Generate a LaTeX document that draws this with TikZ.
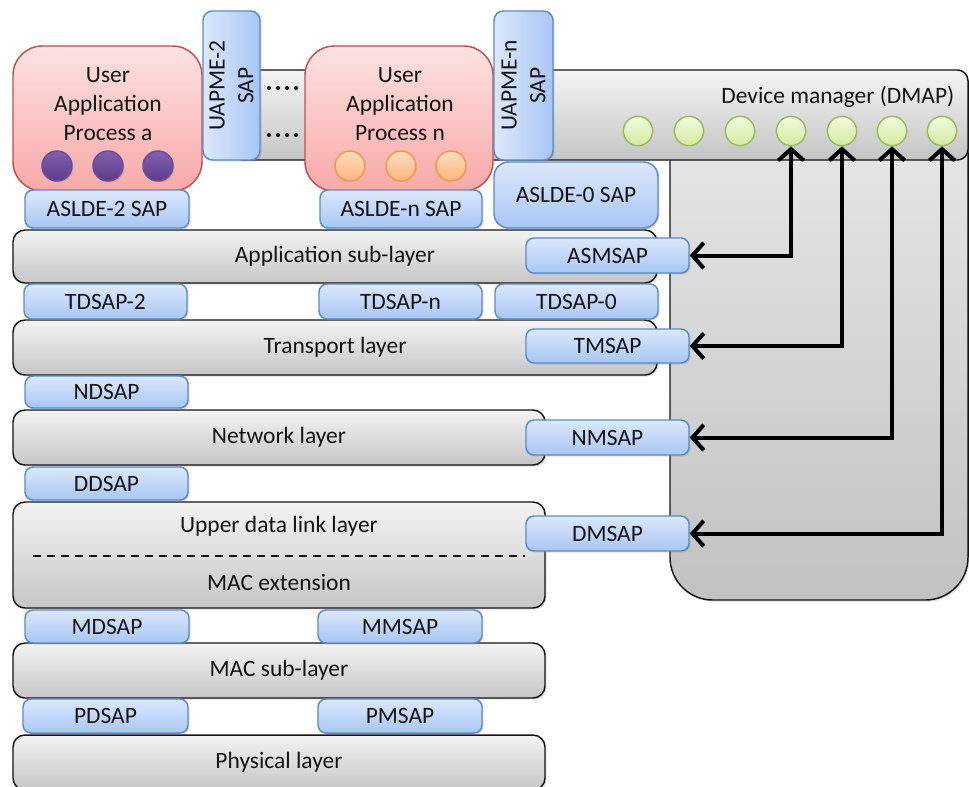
\documentclass[tikz,border=0pt]{standalone}
\usepackage{fontspec}
\setmainfont{Carlito}
\usetikzlibrary{fit,arrows.meta,shadows}

\definecolor{sapTop}{HTML}{DCE8FC}
\definecolor{sapBot}{HTML}{A8C6F4}
\definecolor{sapLine}{HTML}{5A8BCB}
\definecolor{uapTop}{HTML}{FDE2E2}
\definecolor{uapBot}{HTML}{F8A9A8}
\definecolor{uapLine}{HTML}{C0504D}
\definecolor{layTop}{HTML}{F3F3F3}
\definecolor{layBot}{HTML}{C6C6C6}
\definecolor{purTop}{HTML}{8262AE}
\definecolor{purBot}{HTML}{5C3C88}
\definecolor{purLine}{HTML}{6B4B97}
\definecolor{oraTop}{HTML}{FEDDBF}
\definecolor{oraBot}{HTML}{FBB67C}
\definecolor{oraLine}{HTML}{F79646}
\definecolor{grnTop}{HTML}{F3FADF}
\definecolor{grnBot}{HTML}{D2EA9E}
\definecolor{grnLine}{HTML}{9BBB59}
\definecolor{txt}{HTML}{141414}

\begin{document}
\begin{tikzpicture}[x=0.75pt,y=-0.75pt,
  every node/.style={font=\fontsize{17.6}{21.5}\selectfont, text=txt},
  shade/.style={drop shadow={shadow xshift=1.2pt,shadow yshift=-1.2pt,opacity=0.25}},
  layer/.style={draw=txt, line width=1.1pt, rounded corners=9pt,
    top color=layTop, bottom color=layBot, inner sep=0pt, fit={#1}, shade},
  sap/.style={draw=sapLine, line width=1.1pt, rounded corners=6pt,
    top color=sapTop, bottom color=sapBot, inner sep=0pt, fit={#1}, shade},
  vsap/.style={draw=sapLine, line width=1.1pt, rounded corners=7pt,
    left color=sapTop, right color=sapBot, inner sep=0pt, fit={#1}, shade},
  uap/.style={draw=uapLine, line width=1.1pt, rounded corners=22pt,
    top color=uapTop, bottom color=uapBot, inner sep=0pt, fit={#1}},
  dot/.style={circle, inner sep=0pt, minimum size=22.5pt, line width=1.1pt},
  pdot/.style={dot, draw=purLine, top color=purTop, bottom color=purBot, shade},
  odot/.style={dot, draw=oraLine, top color=oraTop, bottom color=oraBot},
  gdot/.style={dot, minimum size=22pt, draw=grnLine, top color=grnTop, bottom color=grnBot},
  tipend/.tip={Straight Barb[length=8.5pt,width=19pt,line width=3pt]},
  conn/.style={line width=3pt, tipend-tipend},
]
\clip (0,0) rectangle (969,786);
\fill[white] (0,0) rectangle (969,786);

% device manager (DMAP): vertical body and top bar
\node[draw=txt, line width=1.1pt, rounded corners=32pt, top color=gray!18, bottom color=gray!48,
  inner sep=0pt, fit={(670,110) (968,600)}, shade] (dmapv) {};
\node[draw=txt, line width=1.1pt, rounded corners=8pt, top color=gray!8, bottom color=gray!46,
  inner sep=0pt, fit={(232,70) (968,160)}] (dmap) {};
\node[anchor=east] (dmaplbl) at (959,97) {Device manager (DMAP)};
\foreach \i/\x in {1/638,2/689,3/740,4/791,5/842,6/892,7/942}
  \node[gdot] (g\i) at (\x,131) {};

% ellipsis between the user processes
\foreach \y in {88,135}
  \foreach \x in {269,278,287,296}
    \fill[txt] (\x,\y) circle (2.1);

% user application processes
\node[uap={(13,46) (202,191)}] (upa) {};
\node[align=center] (upatxt) at (108,104) {User\\Application\\Process a};
\foreach \i/\x in {1/57,2/108,3/158}
  \node[pdot] (pa\i) at (\x,166) {};

\node[uap={(305,46) (493,191)}] (upn) {};
\node[align=center] (upntxt) at (400,104) {User\\Application\\Process n};
\foreach \i/\x in {1/350,2/401,3/451}
  \node[odot] (pn\i) at (\x,166) {};

% management SAPs of the user processes
\node[vsap={(203,11) (260,160)}] (uapme2) {};
\node[rotate=90, align=center] (uapme2txt) at (uapme2.center) {UAPME-2\\SAP};
\node[vsap={(494,11) (553,160)}] (uapmen) {};
\node[rotate=90, align=center] (uapmentxt) at (uapmen.center) {UAPME-n\\SAP};

% protocol layers
\node[layer={(13,230) (657,283)}, label=center:{Application sub-layer}] (asl) {};
\node[layer={(13,320) (657,375)}, label=center:{Transport layer}] (tl) {};
\node[layer={(13,410) (545,465)}, label=center:{Network layer}] (nl) {};
\node[layer={(13,502) (545,608)}] (udl) {};
\node (udltxt) at (279,526) {Upper data link layer};
\node (mactxt) at (279,582) {MAC extension};
\coordinate (dashL) at (33,556);
\coordinate (dashR) at (525,556);
\draw[txt, line width=1.1pt, dash pattern=on 6pt off 4.5pt] (dashL) -- (dashR);
\node[layer={(13,643) (545,698)}, label=center:{MAC sub-layer}] (mac) {};
\node[layer={(13,735) (545,790)}, label=center:{Physical layer}] (phy) {};

% service access points
\node[sap={(25,190) (189,228)}, label=center:{ASLDE-2 SAP}] (aslde2) {};
\node[sap={(320,190) (482,228)}, label=center:{ASLDE-n SAP}] (asldeN) {};
\node[sap={(494,162) (658,228)}, rounded corners=11pt, label=center:{ASLDE-0 SAP}] (aslde0) {};
\node[sap={(526,238) (689,273)}, label=center:{ASMSAP}] (asm) {};
\node[sap={(24,284) (187,319)}, label=center:{TDSAP-2}] (tds2) {};
\node[sap={(319,284) (482,319)}, label=center:{TDSAP-n}] (tdsn) {};
\node[sap={(495,284) (658,319)}, label=center:{TDSAP-0}] (tds0) {};
\node[sap={(526,329) (689,363)}, label=center:{TMSAP}] (tm) {};
\node[sap={(25,376) (188,408)}, label=center:{NDSAP}] (nd) {};
\node[sap={(526,420) (689,455)}, label=center:{NMSAP}] (nm) {};
\node[sap={(25,467) (188,500)}, label=center:{DDSAP}] (dd) {};
\node[sap={(526,516) (689,551)}, label=center:{DMSAP}] (dm) {};
\node[sap={(25,610) (189,643)}, label=center:{MDSAP}] (md) {};
\node[sap={(318,610) (482,643)}, label=center:{MMSAP}] (mm) {};
\node[sap={(23,699) (188,733)}, label=center:{PDSAP}] (pd) {};
\node[sap={(318,699) (482,733)}, label=center:{PMSAP}] (pm) {};

% management connections from DMAP to the layer SAPs
\draw[conn] (g4.south) |- (asm.east);
\draw[conn] (g5.south) |- (tm.east);
\draw[conn] (g6.south) |- (nm.east);
\draw[conn] (g7.south) |- (dm.east);
\end{tikzpicture}
\end{document}
